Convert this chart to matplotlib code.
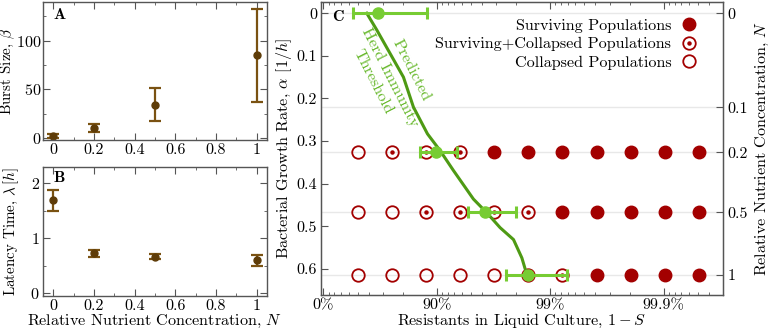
import numpy as np
import matplotlib
matplotlib.use("Agg")
import matplotlib.pyplot as plt
from matplotlib.legend_handler import HandlerTuple

plt.rcParams['font.family'] = ['cmr10', 'DejaVu Serif']
plt.rcParams['mathtext.fontset'] = 'cm'
plt.rcParams['axes.formatter.use_mathtext'] = True
FS = 11.6
plt.rcParams['font.size'] = FS

# ---------------- data ----------------
N_levels = [0, 0.2, 0.5, 1]
burst_mean = [2, 10.5, 34, 85]
burst_lo = [0, 6, 17.5, 37.5]
burst_hi = [4, 14.5, 51, 133]
latency_mean = [1.69, 0.72, 0.66, 0.60]
latency_lo = [1.50, 0.65, 0.61, 0.49]
latency_hi = [1.87, 0.78, 0.71, 0.69]

# panel C
N_ticks = [0, 0.1, 0.2, 0.5, 1]
N_tick_labels = ['0', '0.1', '0.2', '0.5', '1']
alpha_of_N = [0.0, 0.221, 0.326, 0.467, 0.613]

S_tested = [0.5, 0.25, 0.125, 0.0625, 0.03125, 0.015625, 0.0078125,
            0.00390625, 0.001953125, 0.0009765625, 0.00048828125]
# outcome per row: 0 collapsed, 1 surviving+collapsed, 2 surviving
row_alpha = [0.326, 0.467, 0.613]
outcome_N02 = [0, 1, 1, 1, 2, 2, 2, 2, 2, 2, 2]
outcome_N05 = [0, 0, 1, 1, 1, 1, 2, 2, 2, 2, 2]
outcome_N1 = [0, 0, 0, 0, 0, 1, 1, 2, 2, 2, 2]

# predicted herd immunity threshold (surviving sensitive fraction S vs alpha)
curve_S = [0.415, 0.339, 0.259, 0.197, 0.161, 0.121, 0.0938, 0.0714,
           0.0476, 0.0363, 0.0277, 0.0211, 0.0178, 0.0161]
curve_alpha = [0.0, 0.039, 0.094, 0.150, 0.220, 0.283, 0.322, 0.369,
               0.436, 0.468, 0.503, 0.531, 0.574, 0.613]

# measured thresholds
thr_alpha = [0.0, 0.326, 0.467, 0.613]
thr_S = [0.327, 0.102, 0.0376, 0.0158]
thr_S_hi = [0.545, 0.141, 0.0535, 0.0247]   # left end (lower resistant)
thr_S_lo = [0.121, 0.066, 0.0201, 0.00716]  # right end

res_ticks = [0.0, 0.9, 0.99, 0.999]
res_tick_labels = ['0%', '90%', '99%', '99.9%']

# ---------------- style ----------------
brown = '#5e3c08'
brown_bar = '#7a5212'
red = '#a30000'
green_pt = '#77cc33'
green_line = '#4e9a14'
green_txt = '#66b82a'
spine_c = '#555555'

W, H = 771, 332
fig = plt.figure(figsize=(W / 100, H / 100), dpi=100)


def px_axes(l, t, r, b):
    return fig.add_axes([l / W, 1 - b / H, (r - l) / W, (b - t) / H])


def style(ax):
    for s in ax.spines.values():
        s.set_color(spine_c)
        s.set_linewidth(1.0)
    ax.tick_params(which='both', direction='in', color=spine_c,
                   top=True, right=True, labelsize=FS, pad=2.5)
    ax.tick_params(which='major', length=5, width=0.8)
    ax.tick_params(which='minor', length=2.5, width=0.6)


axA = px_axes(43.3, 1.7, 266.7, 140)
axB = px_axes(43.3, 166.7, 266.7, 295.7)
axC = px_axes(320.7, 1.7, 722.7, 295)

# ---- A ----
yerrA = [np.subtract(burst_mean, burst_lo), np.subtract(burst_hi, burst_mean)]
axA.errorbar(N_levels, burst_mean, yerr=yerrA, fmt='o', color=brown, ms=5,
             ecolor=brown_bar, elinewidth=1.6, capsize=4, capthick=1.6)
axA.set_xlim(-0.05, 1.05)
axA.set_ylim(-2, 140)
axA.set_xticks([0, 0.2, 0.4, 0.6, 0.8, 1])
axA.set_xticklabels(['0', '0.2', '0.4', '0.6', '0.8', '1'])
axA.set_xticks([0.1, 0.3, 0.5, 0.7, 0.9], minor=True)
axA.set_yticks([0, 50, 100])
axA.set_yticks([25, 75, 125], minor=True)
axA.set_ylabel(r'Burst Size, $\beta$', fontsize=10.8, va='center')
axA.yaxis.set_label_coords(-0.158, 0.5)
style(axA)
axA.tick_params(axis='y', which='both', pad=1.5)
axA.text(0.045, 0.91, r'$\mathbf{A}$', transform=axA.transAxes,
         ha='left', va='center', fontsize=FS)

# ---- B ----
yerrB = [np.subtract(latency_mean, latency_lo), np.subtract(latency_hi, latency_mean)]
axB.errorbar(N_levels, latency_mean, yerr=yerrB, fmt='o', color=brown, ms=5,
             ecolor=brown_bar, elinewidth=1.6, capsize=4, capthick=1.6)
axB.set_xlim(-0.05, 1.05)
axB.set_ylim(-0.05, 2.3)
axB.set_xticks([0, 0.2, 0.4, 0.6, 0.8, 1])
axB.set_xticklabels(['0', '0.2', '0.4', '0.6', '0.8', '1'])
axB.set_xticks([0.1, 0.3, 0.5, 0.7, 0.9], minor=True)
axB.set_yticks([0, 1, 2])
axB.set_yticks([0.5, 1.5], minor=True)
axB.set_ylabel(r'Latency Time, $\lambda\,[h]$', fontsize=10.8, va='center')
axB.yaxis.set_label_coords(-0.145, 0.5)
axB.set_xlabel(r'Relative Nutrient Concentration, $N$', labelpad=0)
style(axB)
axB.text(0.045, 0.918, r'$\mathbf{B}$', transform=axB.transAxes,
         ha='left', va='center', fontsize=FS)

# ---- C ----
def fwd(r):
    r = np.asarray(r, dtype=float)
    return -np.log10(np.clip(1 - r, 1e-12, None))


def inv(u):
    u = np.asarray(u, dtype=float)
    return 1 - 10 ** (-u)


axC.set_xscale('function', functions=(fwd, inv))
axC.set_xlim(inv(-0.024), inv(3.52))
axC.set_ylim(0.661, -0.027)

for a in alpha_of_N:
    axC.axhline(a, color='#e8e8e8', lw=1.0, zorder=0)

res_tested = 1 - np.array(S_tested)
for a, outc in zip(row_alpha, [outcome_N02, outcome_N05, outcome_N1]):
    outc = np.array(outc)
    x = res_tested
    m2 = outc == 2
    m1 = outc == 1
    m0 = outc == 0
    axC.plot(x[m2], [a] * m2.sum(), 'o', color=red, ms=9, zorder=3)
    axC.plot(x[m1 | m0], [a] * (m1 | m0).sum(), 'o', mfc='none', mec=red,
             mew=1.3, ms=9, zorder=3)
    axC.plot(x[m1], [a] * m1.sum(), 'o', color=red, ms=2.2, zorder=3)

# threshold curve
axC.plot(1 - np.array(curve_S), curve_alpha, color=green_line, lw=2.2, zorder=4)
thr_res = 1 - np.array(thr_S)
xerr = [thr_res - (1 - np.array(thr_S_hi)), (1 - np.array(thr_S_lo)) - thr_res]
axC.errorbar(thr_res, thr_alpha, xerr=xerr, fmt='o', color=green_pt, ms=8,
             elinewidth=2.2, capsize=4.5, capthick=2.2, zorder=5)

axC.set_xticks(res_ticks)
axC.set_xticklabels(res_tick_labels)
minor_u = [d - np.log10(1 - j / 10) for d in range(4) for j in range(1, 9)]
minor_u = [u for u in minor_u if u < 3.52]
axC.set_xticks(inv(minor_u), minor=True)
axC.set_yticks([0, 0.1, 0.2, 0.3, 0.4, 0.5, 0.6])
axC.set_yticklabels(['0', '0.1', '0.2', '0.3', '0.4', '0.5', '0.6'])
axC.set_xlabel(r'Resistants in Liquid Culture, $1-S$', labelpad=0)
axC.set_ylabel(r'Bacterial Growth Rate, $\alpha$ $[1/h]$', labelpad=2)
style(axC)
axC.tick_params(axis='y', which='both', right=False)

axR = axC.twinx()
axR.set_ylim(axC.get_ylim())
axR.set_yticks(alpha_of_N)
axR.set_yticklabels(N_tick_labels)
axR.set_ylabel(r'Relative Nutrient Concentration, $N$', labelpad=4)
for s in axR.spines.values():
    s.set_color(spine_c)
axR.tick_params(direction='in', color=spine_c, labelsize=FS, length=5,
                width=0.8, pad=3.5)

axC.text(0.027, 0.948, r'$\mathbf{C}$', transform=axC.transAxes,
         ha='left', va='center', fontsize=FS)

# green annotations
def axfrac(px, py):
    return ((px - 320.7) / 402.0, (295 - py) / 293.3)

for s, (px, py) in [('Predicted', (411, 70)), ('Herd Immunity', (390, 77)),
                    ('Threshold', (373, 82))]:
    fx, fy = axfrac(px, py)
    axC.text(fx, fy, s, transform=axC.transAxes, rotation=-63,
             rotation_mode='anchor', ha='center', va='center',
             color=green_txt, fontsize=FS)

# legend
h_surv, = axC.plot([], [], 'o', color=red, ms=9)
h_c1, = axC.plot([], [], 'o', mfc='none', mec=red, mew=1.3, ms=9)
h_c2, = axC.plot([], [], 'o', color=red, ms=2.2)
h_col, = axC.plot([], [], 'o', mfc='none', mec=red, mew=1.3, ms=9)
axC.legend([h_surv, (h_c1, h_c2), h_col],
           ['Surviving Populations', 'Surviving+Collapsed Populations',
            'Collapsed Populations'],
           handler_map={tuple: HandlerTuple(ndivide=1, pad=0)},
           loc='upper right', bbox_to_anchor=(0.96, 0.975), frameon=False,
           markerfirst=False, handlelength=1.0, handletextpad=0.6,
           labelspacing=0.25, fontsize=FS, borderaxespad=0.2)

fig.savefig('out.png', dpi=100)
